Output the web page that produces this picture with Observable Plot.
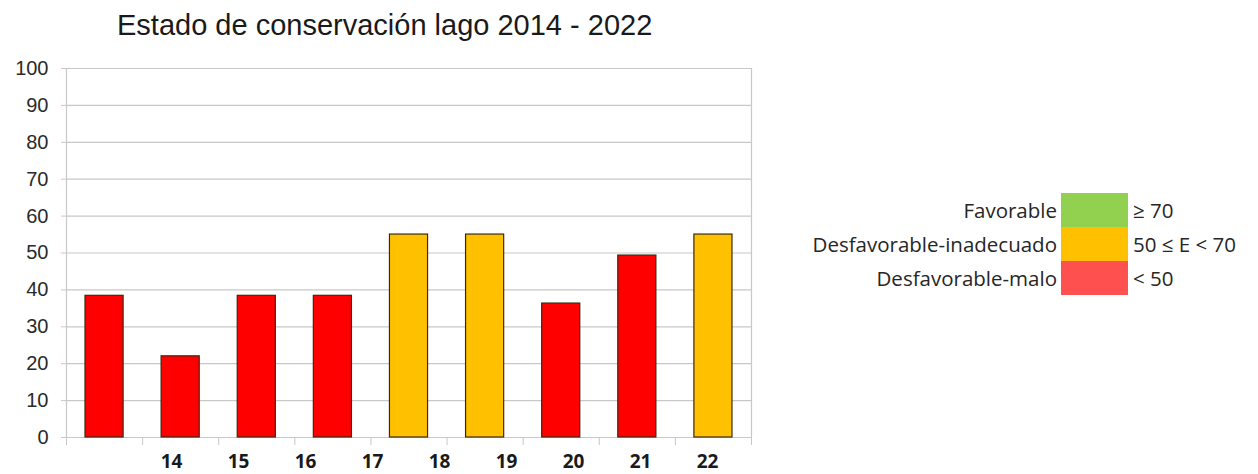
<!DOCTYPE html>
<html>
<head>
<meta charset="utf-8">
<script src="https://cdn.jsdelivr.net/npm/d3@7"></script>
<script src="https://cdn.jsdelivr.net/npm/@observablehq/plot@0.6"></script>
<style>
  body { margin: 0; background: #fff; }
  #wrap { position: relative; width: 1258px; height: 474px; overflow: hidden; background: #fff; }
  #title { position: absolute; left: 117px; top: 9px; font: 29px "Liberation Sans", Arial, sans-serif; color: #1a1a1a; white-space: nowrap; }
  #main { position: absolute; left: 0; top: 50px; }
  #xlab { position: absolute; left: 0; top: 449px; }
  #legend { position: absolute; left: 0; top: 193px; width: 1258px; font-family: "Open Sans", "Noto Sans", sans-serif; font-size: 20.5px; color: #262626; }
  .row { position: relative; height: 34px; }
  .lab { position: absolute; right: 201px; top: 0; line-height: 34px; white-space: nowrap; }
  .sw { position: absolute; left: 1061px; width: 67px; top: 0; height: 34px; }
  .rng { position: absolute; left: 1133px; top: 0; line-height: 34px; white-space: nowrap; }
</style>
</head>
<body>
<div id="wrap">
  <div id="title">Estado de conservación lago 2014 - 2022</div>
  <div id="main"></div>
  <div id="xlab"></div>
  <div id="legend"></div>
</div>
<script>
// ---- data ----
const years = ["14", "15", "16", "17", "18", "19", "20", "21", "22"];
const values = [38.4, 22, 38.4, 38.4, 55, 55, 36.3, 49.3, 55];
const yTicks = [0, 10, 20, 30, 40, 50, 60, 70, 80, 90, 100];

const legendLabels = ["Favorable", "Desfavorable-inadecuado", "Desfavorable-malo"];
const legendRanges = ["≥ 70", "50 ≤ E < 70", "< 50"];
const legendColors = ["#92D050", "#FFC000", "#FF5050"];
const barColors = { "Favorable": "#92D050", "Desfavorable-inadecuado": "#FFC000", "Desfavorable-malo": "#FF0000" };

const statusOf = v => v >= 70 ? legendLabels[0] : v >= 50 ? legendLabels[1] : legendLabels[2];
const data = years.map((y, i) => ({ year: y, idx: i, value: values[i], status: statusOf(values[i]) }));
const bounds = d3.range(years.length + 1);

// ---- main chart ----
const main = Plot.plot({
  width: 1258,
  height: 397,
  marginTop: 18,
  marginBottom: 10,
  marginLeft: 66,
  marginRight: 507,
  x: { type: "linear", domain: [0, years.length], axis: null, label: null },
  y: { domain: [0, 100], axis: null, label: null },
  style: { background: "#fff", overflow: "visible" },
  marks: [
    Plot.ruleY(yTicks, { x1: 0, x2: years.length, stroke: "#c8c8c8", strokeWidth: 1.2 }),
    Plot.ruleX([0, years.length], { y1: 0, y2: 100, stroke: "#c8c8c8", strokeWidth: 1.2 }),
    Plot.axisY(yTicks, {
      label: null, tickSize: 5, tickPadding: 13, stroke: "#c8c8c8",
      fontSize: 20, fontFamily: "Liberation Sans, Arial, sans-serif", fill: "#2a2a2a",
      tickFormat: d => String(d)
    }),
    Plot.axisX(bounds, {
      label: null, anchor: "bottom", tickSize: 8, tickPadding: 0, stroke: "#c8c8c8",
      tickFormat: () => ""
    }),
    Plot.rectY(data, {
      x1: "idx", x2: d => d.idx + 1, y: "value",
      fill: d => barColors[d.status], stroke: "#3a2a10", strokeWidth: 1.2,
      insetLeft: 19, insetRight: 19
    })
  ]
});
document.getElementById("main").appendChild(main);

// ---- x labels (as in the reference, offset from the bars) ----
const xl = Plot.plot({
  width: 1258,
  height: 25,
  marginTop: 0,
  marginBottom: 0,
  marginLeft: 168,
  marginRight: 548,
  x: { type: "point", domain: years, axis: null, padding: 0 },
  style: { background: "transparent", overflow: "visible" },
  marks: [
    Plot.text(years, { x: d => d, text: d => d, fontSize: 19, fontWeight: "bold",
      fontFamily: "Open Sans, Noto Sans, sans-serif", fill: "#1a1a1a" })
  ]
});
document.getElementById("xlab").appendChild(xl);

// ---- legend ----
const leg = document.getElementById("legend");
legendLabels.forEach((l, i) => {
  const row = document.createElement("div");
  row.className = "row";
  row.innerHTML = `<span class="lab">${l}</span><span class="sw" style="background:${legendColors[i]}"></span><span class="rng">${legendRanges[i]}</span>`;
  leg.appendChild(row);
});
</script>
</body>
</html>
